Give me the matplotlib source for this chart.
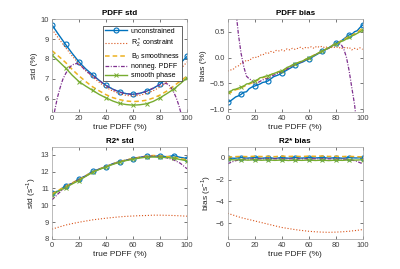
import matplotlib
matplotlib.use('Agg')
import matplotlib.pyplot as plt

# x grids
x5 = list(range(0, 101, 5))
x2 = list(range(0, 101, 2))

labels = ['unconstrained', 'R$_2^*$ constraint', 'B$_0$ smoothness', 'nonneg. PDFF', 'smooth phase']

# PDFF std (%)
pdff_std_unc = [9.72, 9.22, 8.74, 8.28, 7.85, 7.50, 7.21, 6.92, 6.67, 6.48, 6.34, 6.25, 6.22, 6.27, 6.37, 6.52, 6.73, 7.05, 7.47, 7.78, 8.13]
pdff_std_r2 = [9.50, 9.03, 8.58, 8.15, 7.76, 7.41, 7.10, 6.82, 6.57, 6.38, 6.25, 6.16, 6.13, 6.17, 6.26, 6.40, 6.58, 6.83, 7.15, 7.48, 7.85]
pdff_std_b0 = [8.42, 8.13, 7.83, 7.47, 7.15, 6.86, 6.60, 6.39, 6.20, 6.05, 5.95, 5.88, 5.85, 5.87, 5.92, 6.03, 6.18, 6.38, 6.63, 6.88, 7.14]
pdff_std_phase = [8.20, 7.88, 7.55, 7.18, 6.86, 6.63, 6.42, 6.21, 6.04, 5.88, 5.76, 5.70, 5.67, 5.69, 5.74, 5.86, 6.04, 6.25, 6.47, 6.75, 7.05]
pdff_std_nonneg = [4.55, 5.40, 6.05, 6.55, 6.97, 7.25, 7.48, 7.64, 7.73, 7.77, 7.74, 7.62, 7.48, 7.36, 7.25, 7.17,
                   7.06, 6.96, 6.86, 6.76, 6.67, 6.58, 6.51, 6.44, 6.38, 6.33, 6.29, 6.26, 6.24, 6.22, 6.22, 6.23,
                   6.25, 6.28, 6.32, 6.37, 6.43, 6.50, 6.57, 6.64, 6.70, 6.75, 6.77, 6.73, 6.58, 6.35, 6.05, 5.65,
                   5.15, 4.55, 3.85]

# PDFF bias (%)
pdff_bias_unc = [-0.86, -0.84, -0.80, -0.76, -0.74, -0.71, -0.67, -0.66, -0.60, -0.57, -0.55, -0.53, -0.51, -0.48, -0.47, -0.45,
                 -0.41, -0.37, -0.35, -0.33, -0.30, -0.27, -0.24, -0.21, -0.18, -0.14, -0.12, -0.10, -0.08, -0.05, -0.03, 0.00,
                 0.03, 0.06, 0.09, 0.12, 0.15, 0.17, 0.21, 0.24, 0.28, 0.30, 0.32, 0.36, 0.40, 0.44, 0.45, 0.50,
                 0.52, 0.58, 0.63]
pdff_bias_r2 = [-0.26, -0.24, -0.23, -0.18, -0.16, -0.11, -0.09, -0.05, -0.06, -0.01, 0.01, 0.00, 0.05, 0.05, 0.09, 0.08,
                0.12, 0.10, 0.14, 0.13, 0.15, 0.13, 0.17, 0.15, 0.18, 0.16, 0.18, 0.20, 0.17, 0.20, 0.19, 0.21,
                0.18, 0.22, 0.20, 0.22, 0.19, 0.21, 0.18, 0.21, 0.19, 0.21, 0.17, 0.20, 0.18, 0.20, 0.15, 0.18,
                0.16, 0.19, 0.16]
pdff_bias_b0 = [-0.70, -0.68, -0.65, -0.62, -0.61, -0.58, -0.56, -0.53, -0.51, -0.49, -0.46, -0.44, -0.41, -0.39, -0.37, -0.36,
                -0.33, -0.31, -0.30, -0.27, -0.26, -0.23, -0.21, -0.18, -0.15, -0.13, -0.10, -0.08, -0.06, -0.03, -0.01, 0.02,
                0.05, 0.07, 0.10, 0.13, 0.15, 0.18, 0.21, 0.24, 0.27, 0.29, 0.32, 0.35, 0.38, 0.41, 0.43, 0.46,
                0.49, 0.53, 0.57]
pdff_bias_nonneg = [3.50, 2.40, 1.60, 0.95, 0.45, 0.08, -0.18, -0.36, -0.41, -0.44, -0.50, -0.49, -0.46, -0.43, -0.41, -0.40,
                    -0.37, -0.34, -0.32, -0.29, -0.28, -0.25, -0.22, -0.19, -0.16, -0.13, -0.11, -0.09, -0.07, -0.04, -0.02, 0.01,
                    0.04, 0.07, 0.09, 0.12, 0.15, 0.17, 0.20, 0.23, 0.26, 0.27, 0.26, 0.17, 0.01, -0.25, -0.58, -0.90,
                    -1.35, -2.00, -2.90]
pdff_bias_phase = [-0.67, -0.66, -0.62, -0.61, -0.59, -0.57, -0.55, -0.51, -0.50, -0.47, -0.45, -0.43, -0.39, -0.38, -0.36, -0.35,
                   -0.33, -0.31, -0.29, -0.27, -0.26, -0.23, -0.19, -0.17, -0.14, -0.12, -0.10, -0.08, -0.06, -0.03, -0.01, 0.02,
                   0.04, 0.07, 0.10, 0.12, 0.15, 0.18, 0.20, 0.24, 0.26, 0.28, 0.31, 0.33, 0.36, 0.39, 0.42, 0.44,
                   0.47, 0.50, 0.53]

# R2* std (1/s)
r2_std_unc = [10.75, 10.85, 11.17, 11.30, 11.57, 11.75, 12.02, 12.15, 12.30, 12.47, 12.60, 12.68, 12.78, 12.85, 12.92, 12.90, 12.95, 12.88, 12.95, 12.85, 12.78]
r2_std_r2 = [8.58, 8.70, 8.82, 8.91, 8.99, 9.06, 9.13, 9.18, 9.23, 9.27, 9.31, 9.34, 9.36, 9.38, 9.39, 9.41, 9.41, 9.40, 9.39, 9.37, 9.35]
r2_std_b0 = [10.68, 10.90, 11.12, 11.33, 11.53, 11.76, 11.98, 12.16, 12.30, 12.46, 12.59, 12.70, 12.78, 12.86, 12.92, 12.96, 12.93, 12.90, 12.86, 12.78, 12.70]
r2_std_nonneg = [10.32, 10.72, 11.08, 11.30, 11.52, 11.74, 11.97, 12.15, 12.29, 12.45, 12.58, 12.68, 12.77, 12.84, 12.90, 12.92, 12.90, 12.82, 12.70, 12.50, 12.17]
r2_std_phase = [10.60, 10.85, 11.05, 11.27, 11.47, 11.72, 11.95, 12.13, 12.27, 12.43, 12.56, 12.66, 12.74, 12.81, 12.86, 12.87, 12.85, 12.84, 12.80, 12.72, 12.64]

# R2* bias (1/s)
r2_bias_unc = [0.00, -0.05, 0.02, -0.03, 0.02, -0.04, 0.00, -0.05, 0.01, -0.04, 0.02, -0.03, 0.01, -0.02, 0.02, -0.03, 0.00, -0.04, 0.02, -0.02, 0.01]
r2_bias_r2 = [-5.10, -5.30, -5.50, -5.65, -5.80, -5.95, -6.10, -6.25, -6.40, -6.50, -6.60, -6.68, -6.75, -6.80, -6.83, -6.85, -6.83, -6.80, -6.75, -6.68, -6.60]
r2_bias_b0 = [0.05, 0.10, 0.12, 0.10, 0.14, 0.11, 0.13, 0.10, 0.15, 0.12, 0.14, 0.11, 0.15, 0.13, 0.16, 0.12, 0.14, 0.11, 0.13, 0.10, 0.08]
r2_bias_nonneg = [-0.55, -0.30, -0.15, -0.12, -0.10, -0.10, -0.09, -0.10, -0.09, -0.10, -0.09, -0.10, -0.09, -0.10, -0.09, -0.10, -0.10, -0.12, -0.15, -0.30, -0.55]
r2_bias_phase = [-0.15, -0.20, -0.18, -0.22, -0.19, -0.23, -0.20, -0.24, -0.21, -0.25, -0.22, -0.24, -0.21, -0.25, -0.22, -0.26, -0.22, -0.24, -0.20, -0.22, -0.18]

# MATLAB-ish default colours
c_blue = '#0072BD'
c_orange = '#D95319'
c_yellow = '#EDB120'
c_purple = '#7E2F8E'
c_green = '#77AC30'

plt.rcParams['font.family'] = ['Liberation Sans', 'DejaVu Sans']
plt.rcParams['font.size'] = 5.5
plt.rcParams['mathtext.fontset'] = 'custom'
plt.rcParams['mathtext.rm'] = 'Liberation Sans'

fig = plt.figure(figsize=(4.0, 2.69), dpi=100)

positions = [
    [0.130, 0.584, 0.3375, 0.344],
    [0.569, 0.584, 0.3375, 0.344],
    [0.130, 0.112, 0.3375, 0.340],
    [0.569, 0.112, 0.3375, 0.340],
]


def draw_panel(ax, xs, unc, r2, b0, nonneg, phase, title, ylab, ylim, yticks):
    xa, xn = xs
    me = 10 // (xa[1] - xa[0])
    ax.plot(xa, unc, '-', color=c_blue, lw=1.0, marker='o', ms=3.6, mfc='none', mew=0.8, markevery=me)
    ax.plot(xa, r2, ':', color=c_orange, lw=0.8)
    ax.plot(xa, b0, '--', color=c_yellow, lw=1.1, dashes=(3, 2))
    ax.plot(xn, nonneg, '-.', color=c_purple, lw=0.9, dashes=(3, 1.2, 0.8, 1.2))
    ax.plot(xa, phase, '-', color=c_green, lw=1.0, marker='x', ms=2.5, mew=0.7, markevery=me)
    ax.set_xlim(0, 100)
    ax.set_ylim(*ylim)
    ax.set_xticks([0, 20, 40, 60, 80, 100])
    ax.set_yticks(yticks)
    ax.set_title(title, fontweight='bold', fontsize=5.8, pad=3)
    ax.set_xlabel('true PDFF (%)', fontsize=6, labelpad=1.5, color='#262626')
    ax.set_ylabel(ylab, fontsize=6, labelpad=2, color='#262626')
    ax.tick_params(direction='in', length=2, width=0.5, top=True, right=True,
                   labelsize=5.5, colors='#404040', pad=2)
    for s in ax.spines.values():
        s.set_linewidth(0.5)
        s.set_color('#a0a0a0')


ax1 = fig.add_axes(positions[0])
draw_panel(ax1, (x5, x2), pdff_std_unc, pdff_std_r2, pdff_std_b0, pdff_std_nonneg, pdff_std_phase,
           'PDFF std', 'std (%)', (5.33, 10), [6, 7, 8, 9, 10])
leg = ax1.legend(labels, loc='upper right', bbox_to_anchor=(0.99, 0.97), fontsize=5,
                 handlelength=3.2, handletextpad=0.5, labelspacing=0.25, borderpad=0.3,
                 fancybox=False, framealpha=1)
leg.get_frame().set_linewidth(0.5)
leg.get_frame().set_edgecolor('#262626')

ax2 = fig.add_axes(positions[1])
draw_panel(ax2, (x2, x2), pdff_bias_unc, pdff_bias_r2, pdff_bias_b0, pdff_bias_nonneg, pdff_bias_phase,
           'PDFF bias', 'bias (%)', (-1.05, 0.74), [-1, -0.5, 0, 0.5])

ax3 = fig.add_axes(positions[2])
draw_panel(ax3, (x5, x5), r2_std_unc, r2_std_r2, r2_std_b0, r2_std_nonneg, r2_std_phase,
           'R2* std', 'std (s$^{-1}$)', (8, 13.44), [8, 9, 10, 11, 12, 13])

ax4 = fig.add_axes(positions[3])
draw_panel(ax4, (x5, x5), r2_bias_unc, r2_bias_r2, r2_bias_b0, r2_bias_nonneg, r2_bias_phase,
           'R2* bias', 'bias (s$^{-1}$)', (-7.45, 0.95), [-6, -4, -2, 0])

fig.savefig('out.png', dpi=100)
